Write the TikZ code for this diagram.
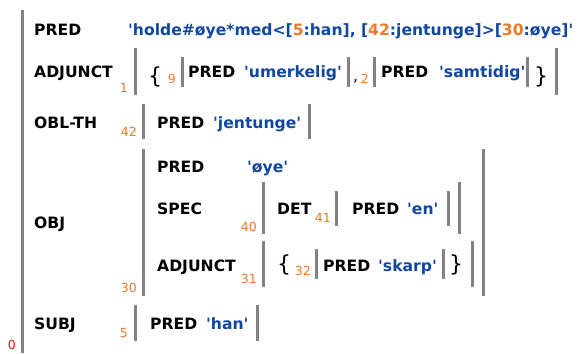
\documentclass[tikz,border=0pt]{standalone}
\usepackage{fontspec}
\setmainfont{DejaVu Sans}
\definecolor{fsblue}{RGB}{16,72,160}
\definecolor{fsorange}{RGB}{240,120,40}
\definecolor{fsgray}{RGB}{130,130,130}
\definecolor{fsred}{RGB}{235,20,20}
\newcommand{\ix}[1]{{\color{fsorange}#1}}
\newcommand{\sq}[1]{\textquotesingle#1\textquotesingle}
\begin{document}
\begin{tikzpicture}[x=1pt,y=-1pt,
  attr/.style={anchor=base west,inner sep=0pt,font=\fontsize{15.6}{17}\selectfont\bfseries},
  val/.style={attr,text=fsblue},
  idx/.style={anchor=base east,inner sep=0pt,text=fsorange,font=\fontsize{12.5}{14}\selectfont},
  fsbar/.style={draw=fsgray,line width=3pt},
  brc/.style={anchor=center,inner sep=0pt,font=\fontsize{22}{24}\selectfont}]
\useasboundingbox (0,0) rectangle (580,353);
% outer f-structure
\draw[fsbar] (22,10) -- (22,353);
\node[idx,text=fsred] (n0) at (16,349.5) {0};
\node[attr] (pred) at (34,36) {PRED};
\node[val] (predv) at (128,36) {\sq{holde\#øye*med<[\ix{5}:han], [\ix{42}:jentunge]>[\ix{30}:øye]}};
% ADJUNCT
\node[attr] (adj) at (34,77) {ADJUNCT};
\node[idx] (n1) at (128,92) {1};
\draw[fsbar] (135,48) -- (135,95);
\node[brc] (adjl) at (155,77) {\{};
\node[idx] (n9) at (176,83) {9};
\draw[fsbar] (182,57) -- (182,87);
\node[attr] (adja) at (188,77) {PRED};
\node[val] (adjav) at (244,77) {\sq{umerkelig}};
\draw[fsbar] (348,57) -- (348,87);
\node[attr,font=\fontsize{15.6}{17}\selectfont] (comma) at (353,81) {,};
\node[idx] (n2) at (369,83) {2};
\draw[fsbar] (374,57) -- (374,87);
\node[attr] (adjb) at (381,77) {PRED};
\node[val] (adjbv) at (439,77) {\sq{samtidig}};
\draw[fsbar] (527,57) -- (527,87);
\node[brc] (adjr) at (541,77) {\}};
\draw[fsbar] (556,48) -- (556,95);
% OBL-TH
\node[attr] (obl) at (34,128) {OBL-TH};
\node[idx] (n42) at (137,136) {42};
\draw[fsbar] (143,104) -- (143,139);
\node[attr] (oblp) at (157,128) {PRED};
\node[val] (oblv) at (213,128) {\sq{jentunge}};
\draw[fsbar] (309,104) -- (309,139);
% OBJ
\node[attr] (obj) at (34,228) {OBJ};
\node[idx] (n30) at (137,292) {30};
\draw[fsbar] (143,149) -- (143,296);
\node[attr] (objp) at (157,172) {PRED};
\node[val] (objv) at (247,172) {\sq{øye}};
\node[attr] (spec) at (157,214) {SPEC};
\node[idx] (n40) at (257,231) {40};
\draw[fsbar] (263,182) -- (263,234);
\node[attr] (det) at (277,214) {DET};
\node[idx] (n41) at (331,222) {41};
\draw[fsbar] (336,191) -- (336,226);
\node[attr] (detp) at (352,214) {PRED};
\node[val] (detv) at (407,214) {\sq{en}};
\draw[fsbar] (448,191) -- (448,226);
\draw[fsbar] (459,182) -- (459,234);
\node[attr] (oadj) at (157,271) {ADJUNCT};
\node[idx] (n31) at (257,283) {31};
\draw[fsbar] (263,241) -- (263,287);
\node[brc] (oadjl) at (284,265) {\{};
\node[idx] (n32) at (311,275) {32};
\draw[fsbar] (316,249) -- (316,279);
\node[attr] (oadjp) at (323,271) {PRED};
\node[val] (oadjv) at (378,271) {\sq{skarp}};
\draw[fsbar] (443,249) -- (443,279);
\node[brc] (oadjr) at (456,265) {\}};
\draw[fsbar] (472,241) -- (472,287);
\draw[fsbar] (483,149) -- (483,296);
% SUBJ
\node[attr] (subj) at (34,329) {SUBJ};
\node[idx] (n5) at (128,337) {5};
\draw[fsbar] (135,305) -- (135,341);
\node[attr] (subjp) at (150,329) {PRED};
\node[val] (subjv) at (206,329) {\sq{han}};
\draw[fsbar] (257,305) -- (257,341);
\end{tikzpicture}
\end{document}
